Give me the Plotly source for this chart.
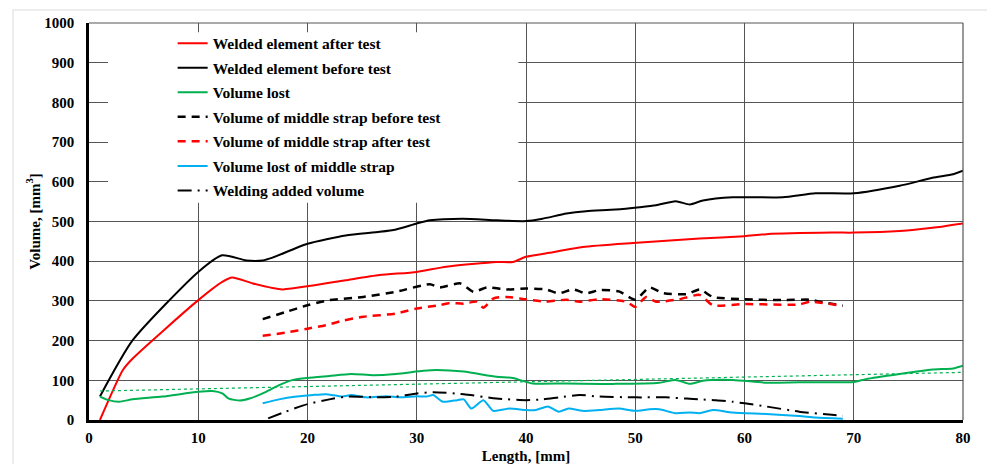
import plotly.graph_objects as go

# ---- data ----
before_x = [1.0, 4.0, 10.0, 12.2, 14.4, 15.9, 16.8, 20.0, 23.5, 26.6, 28.1, 30.0, 31.2, 34.2, 37.3, 40.0,
            41.5, 43.7, 45.5, 48.2, 50.4, 51.9, 53.7, 55.0, 56.2, 58.9, 63.5, 66.5, 70.0, 74.2, 77.2, 79.1, 80.0]
before_y = [59, 201, 373, 415, 402, 402, 409, 444, 465, 474, 480, 495, 503, 507, 503, 501,
            507, 520, 526, 530, 536, 541, 551, 543, 553, 561, 561, 571, 571, 590, 610, 619, 628]

after_x = [1.0, 3.1, 4.0, 10.0, 12.2, 13.1, 15.0, 17.7, 20.5, 23.5, 26.6, 30.0, 32.7, 37.3, 38.8, 40.0,
           42.1, 45.2, 49.8, 55.9, 60.0, 62.0, 68.0, 70.0, 74.2, 77.2, 80.0]
after_y = [0, 126, 155, 302, 348, 359, 344, 329, 339, 352, 365, 373, 386, 398, 398, 411,
           421, 436, 446, 457, 463, 468, 472, 472, 476, 484, 495]

lost_x = [1.0, 1.8, 2.75, 4.0, 6.7, 10.0, 11.3, 12.2, 12.8, 13.8, 14.7, 16.2, 17.4, 18.7, 20.0, 22.0, 24.0,
          26.0, 28.1, 30.6, 31.8, 34.3, 37.3, 38.8, 40.0, 40.6, 43.7, 48.2, 52.2, 53.7, 55.0, 56.2, 58.9,
          62.0, 65.0, 70.0, 71.1, 74.2, 77.2, 79.1, 80.0]
lost_y = [59, 50, 46, 52, 59, 71, 73, 67, 54, 49, 54, 71, 88, 101, 106, 111, 116,
          113, 116, 124, 126, 122, 109, 106, 96, 92, 92, 91, 94, 101, 91, 99, 101,
          94, 95, 96, 103, 116, 127, 130, 137]

trend_x = [1, 80]
trend_y = [73, 120]

strap_before_x = [15.9, 18.0, 20.0, 22.0, 25.1, 28.1, 31.2, 32.1, 34.0, 35.2, 36.4, 38.2, 40.0, 41.8, 43.0,
                  44.3, 45.5, 46.7, 48.5, 50.0, 51.3, 52.5, 54.7, 55.9, 57.1, 60.0, 63.5, 66.0, 66.9, 69.0]
strap_before_y = [254, 272, 289, 302, 310, 323, 342, 334, 344, 323, 334, 329, 331, 329, 319,
                  329, 319, 327, 324, 303, 334, 320, 317, 329, 310, 304, 302, 303, 298, 288]

strap_after_x = [15.9, 18.0, 20.0, 21.7, 23.2, 25.1, 28.1, 30.0, 32.1, 33.0, 34.3, 35.5, 36.1, 37.0, 38.2,
                 40.0, 41.8, 43.7, 44.9, 46.7, 49.2, 50.0, 51.0, 51.9, 54.0, 55.9, 57.1, 60.0, 65.0, 66.0, 69.0]
strap_after_y = [212, 220, 230, 239, 250, 260, 268, 281, 289, 295, 293, 298, 283, 306, 310,
                 304, 298, 303, 298, 304, 298, 285, 310, 298, 304, 315, 289, 292, 291, 298, 287]

strap_lost_x = [15.9, 17.4, 19.0, 20.5, 21.7, 23.2, 24.0, 25.4, 27.2, 28.5, 30.0, 30.9, 31.5, 32.4, 33.7,
                34.3, 35.0, 36.1, 37.0, 38.5, 40.0, 40.9, 42.0, 43.0, 43.9, 45.2, 46.7, 48.5, 50.0, 51.3,
                52.2, 53.7, 55.0, 55.9, 57.1, 58.9, 62.0, 65.0, 66.5, 69.0]
strap_lost_y = [42, 52, 59, 63, 65, 59, 63, 57, 60, 57, 60, 59, 63, 46, 50,
                52, 29, 50, 23, 29, 25, 25, 34, 21, 29, 23, 25, 29, 23, 27,
                27, 17, 19, 17, 25, 19, 15, 10, 6, 3]

weld_x = [16.4, 18.0, 20.0, 22.0, 23.5, 26.6, 28.1, 30.0, 31.5, 34.3, 37.3, 40.0, 41.5, 43.0, 44.9, 46.7,
          50.0, 52.8, 54.7, 55.9, 57.4, 58.9, 60.0, 62.0, 65.0, 68.0, 69.0]
weld_y = [4, 21, 40, 52, 59, 57, 59, 67, 70, 65, 54, 50, 52, 57, 63, 59,
          57, 57, 54, 52, 50, 46, 42, 34, 21, 13, 10]

names = ["Welded element after test", "Welded element before test", "Volume lost",
         "Volume of middle strap before test", "Volume of middle strap after test",
         "Volume lost of middle strap", "Welding added volume"]

x_ticks = [0, 10, 20, 30, 40, 50, 60, 70, 80]
y_ticks = [0, 100, 200, 300, 400, 500, 600, 700, 800, 900, 1000]

RED = "#ff0000"
BLACK = "#000000"
GREEN = "#00b050"
BLUE = "#00b0f0"
FONT = "'Liberation Serif', 'Times New Roman', Times, serif"

fig = go.Figure()

series = [
    (after_x, after_y, names[0], RED, "solid", 2),
    (before_x, before_y, names[1], BLACK, "solid", 2),
    (lost_x, lost_y, names[2], GREEN, "solid", 2),
    (strap_before_x, strap_before_y, names[3], BLACK, "8px,6px", 2.5),
    (strap_after_x, strap_after_y, names[4], RED, "8px,6px", 2.5),
    (strap_lost_x, strap_lost_y, names[5], BLUE, "solid", 2),
    (weld_x, weld_y, names[6], BLACK, "14px,6px,2px,6px", 2),
]
for i, (xs, ys, nm, col, dash, w) in enumerate(series):
    fig.add_trace(go.Scatter(
        x=xs, y=ys, name=nm, mode="lines", legendgroup=f"g{i}",
        line=dict(color=col, width=w, dash=dash, shape="spline", smoothing=0.6),
    ))

fig.add_trace(go.Scatter(
    x=trend_x, y=trend_y, mode="lines", showlegend=False,
    line=dict(color=GREEN, width=1.2, dash="dot"),
))

fig.update_layout(
    width=979, height=456,
    margin=dict(l=81, r=24, t=15, b=44, autoexpand=False),
    paper_bgcolor="white", plot_bgcolor="white",
    font=dict(family=FONT, size=15, color="black"),
    showlegend=True,
    legend=dict(
        x=0.0957, y=0.991, xanchor="left", yanchor="top",
        bgcolor="rgba(255,255,255,0)", borderwidth=0,
        font=dict(family=FONT, size=15.5, color="black", weight="bold"),
        tracegroupgap=1.4, itemwidth=30,
    ),
    shapes=[
        # white area behind legend hiding gridlines
        dict(type="rect", xref="x", yref="y", x0=1.74, x1=39.3, y0=547, y1=977,
             fillcolor="white", line=dict(width=0), layer="between"),
        # top and right thin frame of plot area
        dict(type="line", xref="paper", yref="paper", x0=0, x1=1, y0=1, y1=1,
             line=dict(color="#555555", width=1.2)),
        dict(type="line", xref="paper", yref="paper", x0=1, x1=1, y0=0, y1=1,
             line=dict(color="#555555", width=1.2)),
        # faint outer frame of the image
        dict(type="rect", xref="paper", yref="paper", x0=-0.087, x1=1.0343, y0=-0.2, y1=1.0327,
             line=dict(color="#e8e8e8", width=1.5)),
    ],
)

fig.update_xaxes(
    range=[0, 80], tickvals=x_ticks, ticktext=[str(v) for v in x_ticks],
    showgrid=True, gridcolor="#555555", gridwidth=1,
    showline=True, linecolor="black", linewidth=2.5, ticks="",
    zeroline=False, automargin=False, ticklabelstandoff=2,
    tickfont=dict(family=FONT, size=15, color="black", weight="bold"),
    title=dict(text="Length, [mm]", font=dict(family=FONT, size=15, color="black", weight="bold"),
               standoff=13),
)
fig.update_yaxes(
    range=[0, 1000], tickvals=y_ticks, ticktext=[str(v) for v in y_ticks],
    showgrid=True, gridcolor="#555555", gridwidth=1,
    showline=True, linecolor="black", linewidth=2.5, ticks="",
    zeroline=False, automargin=False, ticklabelstandoff=9,
    tickfont=dict(family=FONT, size=15, color="black", weight="bold"),
    title=dict(text="Volume, [mm<sup>3</sup>]", font=dict(family=FONT, size=15, color="black", weight="bold"),
               standoff=1),
)

fig.write_html("out.html")
